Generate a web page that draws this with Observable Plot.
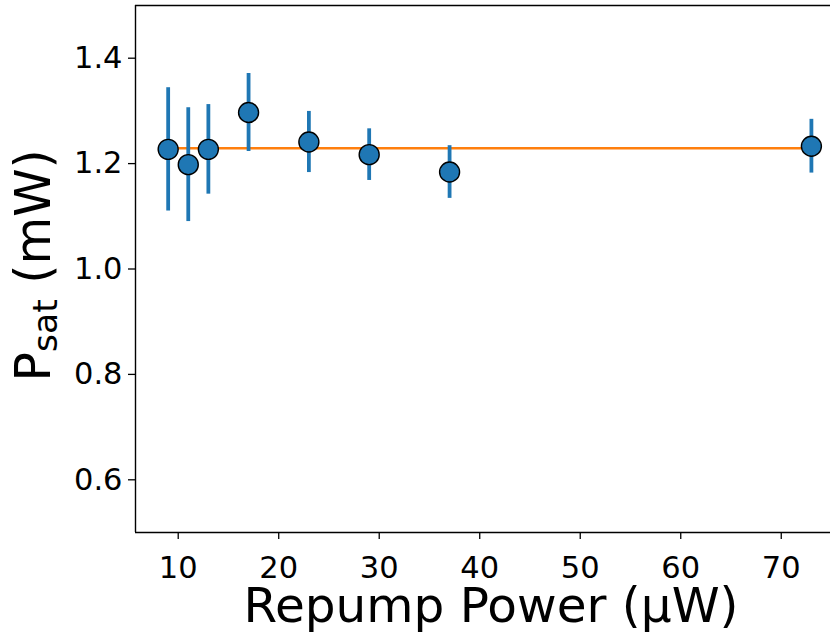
<!DOCTYPE html>
<html><head><meta charset="utf-8">
<script src="https://cdn.jsdelivr.net/npm/d3@7"></script>
<script src="https://cdn.jsdelivr.net/npm/@observablehq/plot@0.6"></script>
<style>body{margin:0;background:#fff;} svg{display:block;}</style>
</head><body><div id="chart"></div>
<script>
const power = [9, 11, 13, 17, 23, 29, 37, 73];
const psat = [1.227, 1.198, 1.227, 1.297, 1.241, 1.217, 1.184, 1.233];
const psatErr = [0.117, 0.108, 0.085, 0.074, 0.058, 0.049, 0.050, 0.051];
const fitPower = [9, 73];
const fitPsat = [1.229, 1.229];
const xTicks = [10, 20, 30, 40, 50, 60, 70];
const yTicks = [0.6, 0.8, 1.0, 1.2, 1.4];
const xLabel = "Repump Power (µW)";
const yLabelMain = "P", yLabelSub = "sat", yLabelUnit = " (mW)";

const pts = power.map((p, i) => ({x: p, y: psat[i], lo: psat[i] - psatErr[i], hi: psat[i] + psatErr[i]}));
const fit = fitPower.map((p, i) => ({x: p, y: fitPsat[i]}));
const xDom = [5.75, 74.9], yDom = [0.5, 1.5];

const chart = Plot.plot({
  width: 830, height: 633,
  marginLeft: 135, marginRight: 0, marginTop: 5, marginBottom: 101,
  style: {fontFamily: "DejaVu Sans", fontSize: "30.5px", color: "black", background: "white", overflow: "visible"},
  x: {domain: xDom, label: null},
  y: {domain: yDom, label: null},
  marks: [
    Plot.axisX({ticks: xTicks, tickSize: 7, tickPadding: 17, strokeWidth: 1.3, label: null}),
    Plot.axisY({ticks: yTicks, tickSize: 7, tickPadding: 6, strokeWidth: 1.3, tickFormat: d3.format(".1f"), label: null}),
    Plot.line(fit, {x: "x", y: "y", stroke: "#ff7f0e", strokeWidth: 2.5}),
    Plot.ruleX(pts, {x: "x", y1: "lo", y2: "hi", stroke: "#1f77b4", strokeWidth: 3.8, strokeLinecap: "butt"}),
    Plot.dot(pts, {x: "x", y: "y", r: 10, fill: "#1f77b4", fillOpacity: 1, stroke: "black", strokeWidth: 1.4}),
    Plot.ruleY([yDom[0], yDom[1]], {stroke: "black", strokeWidth: 1.4}),
    Plot.ruleX([xDom[0]], {stroke: "black", strokeWidth: 1.4})
  ]
});
document.getElementById("chart").appendChild(chart);

const svg = d3.select(chart);
svg.append("text")
  .attr("x", 491).attr("y", 621.7)
  .attr("text-anchor", "middle")
  .attr("font-family", "DejaVu Sans").attr("font-size", 48.5).attr("fill", "black")
  .text(xLabel);

const yl = svg.append("text")
  .attr("transform", "translate(50,381.5) rotate(-90)")
  .attr("text-anchor", "start")
  .attr("font-family", "DejaVu Sans").attr("font-size", 49).attr("fill", "black");
yl.append("tspan").text(yLabelMain);
yl.append("tspan").attr("font-size", 34.5).attr("dy", 7).text(yLabelSub);
yl.append("tspan").attr("dy", -7).text(yLabelUnit);
</script>
</body></html>
